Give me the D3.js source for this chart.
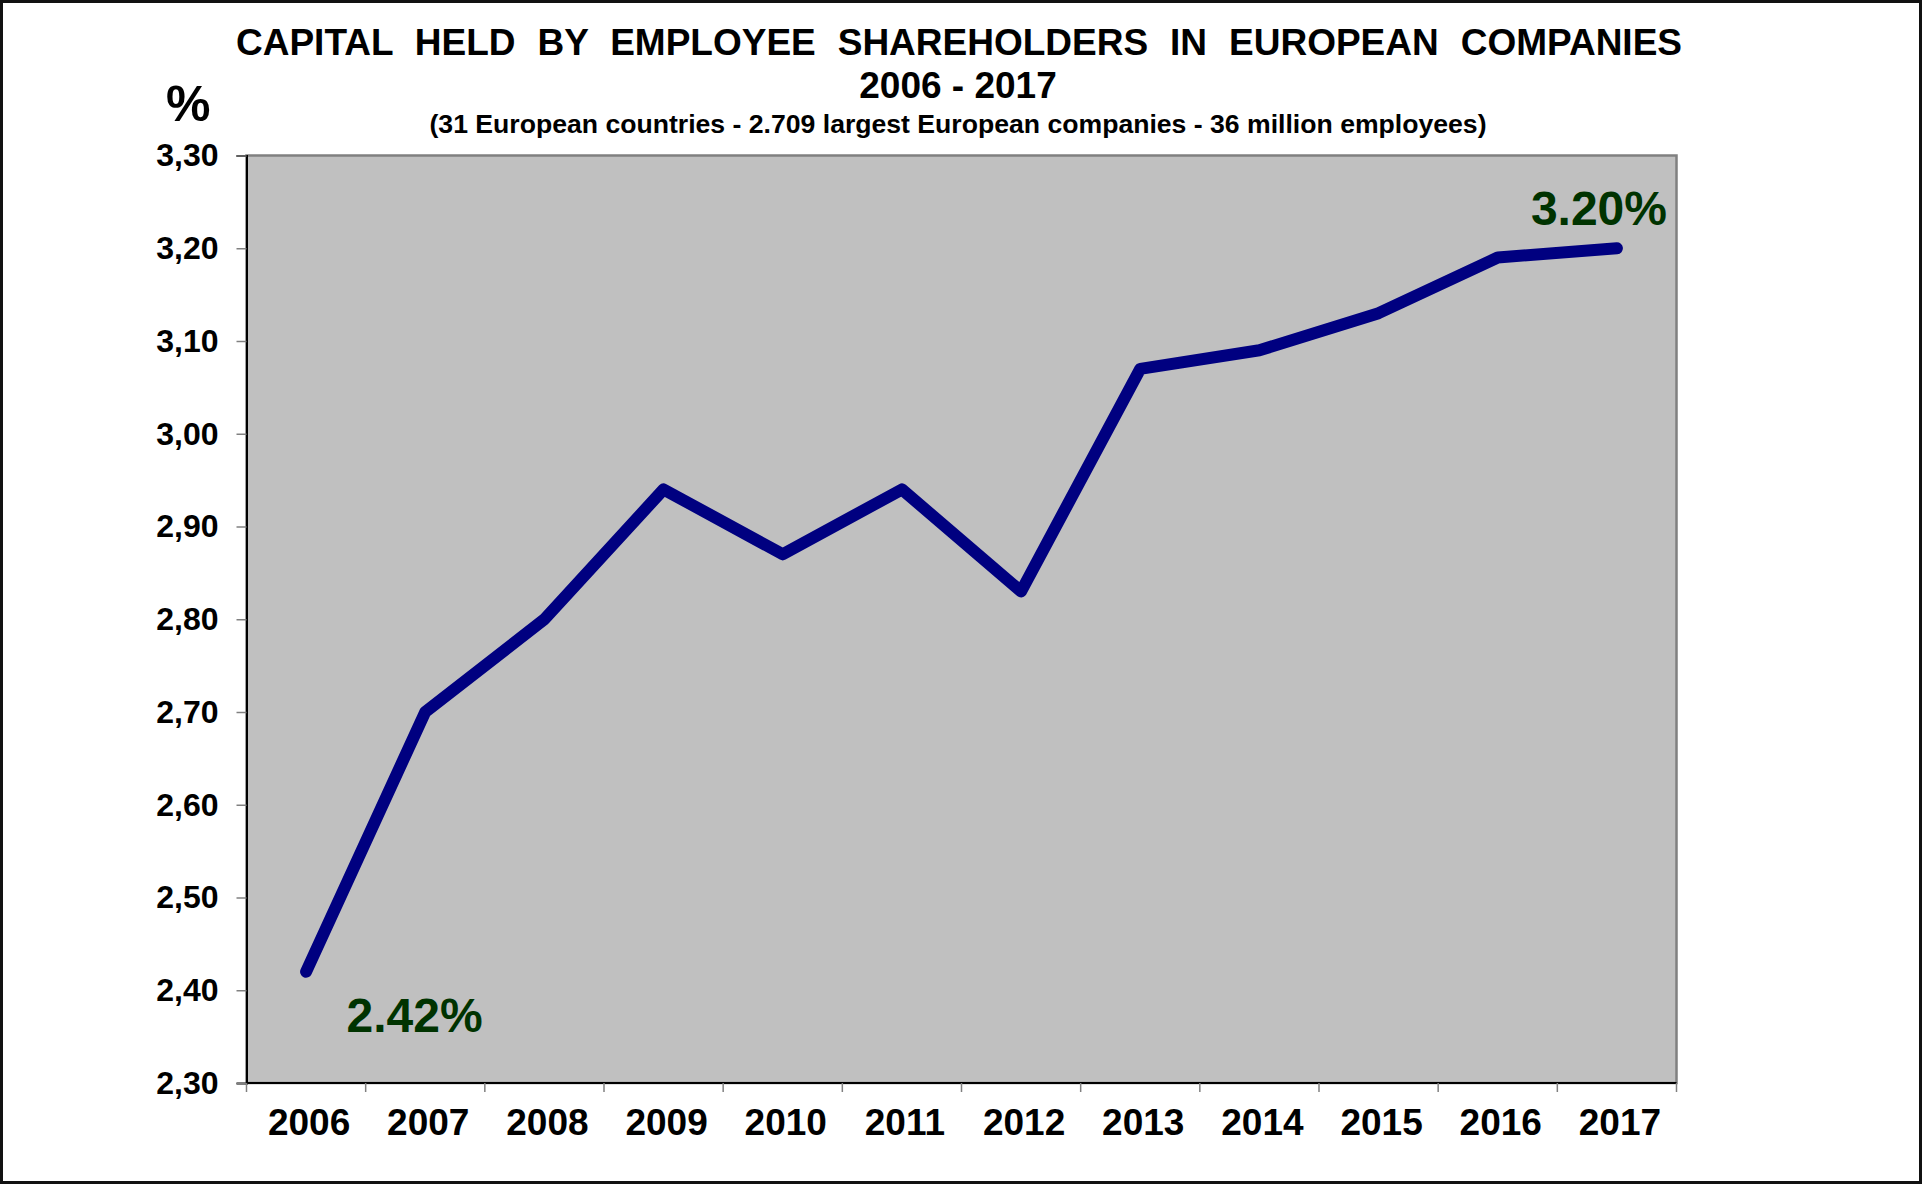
<!DOCTYPE html>
<html>
<head>
<meta charset="utf-8">
<script src="https://cdn.jsdelivr.net/npm/d3@7"></script>
<style>
  html, body { margin: 0; padding: 0; background: #fff; }
  svg { display: block; font-family: "Liberation Sans", Arial, sans-serif; font-weight: bold; }
</style>
</head>
<body>
<svg id="chart" width="1923" height="1184"></svg>
<script>
const years = ["2006","2007","2008","2009","2010","2011","2012","2013","2014","2015","2016","2017"];
const values = [2.42, 2.70, 2.80, 2.94, 2.87, 2.94, 2.83, 3.07, 3.09, 3.13, 3.19, 3.20];
const yTicks = [2.30, 2.40, 2.50, 2.60, 2.70, 2.80, 2.90, 3.00, 3.10, 3.20, 3.30];
const titleLine1 = "CAPITAL HELD BY EMPLOYEE SHAREHOLDERS IN EUROPEAN COMPANIES";
const titleLine2 = "2006 - 2017";
const subtitle = "(31 European countries - 2.709 largest European companies - 36 million employees)";
const firstLabel = "2.42%";
const lastLabel = "3.20%";

const svg = d3.select("#chart");
const W = 1923, H = 1184;
const plot = { left: 246.5, right: 1676.5, top: 155.5, bottom: 1083 };

// outer frame
svg.append("rect").attr("x", 1.5).attr("y", 1.5).attr("width", W - 4).attr("height", H - 3)
  .attr("fill", "#fff").attr("stroke", "#111").attr("stroke-width", 3);

const x = d3.scaleBand().domain(years).range([plot.left, plot.right]).padding(0);
const y = d3.scaleLinear().domain([2.30, 3.30]).range([plot.bottom, plot.top]);

// plot background
svg.append("rect").attr("x", plot.left).attr("y", plot.top)
  .attr("width", plot.right - plot.left).attr("height", plot.bottom - plot.top)
  .attr("fill", "#C0C0C0").attr("stroke", "#808080").attr("stroke-width", 2.5);

// Y axis
const fmt = d => d3.format(".2f")(d).replace(".", ",");
const yAxis = svg.append("g").attr("transform", `translate(${plot.left},0)`)
  .call(d3.axisLeft(y).tickValues(yTicks).tickFormat(fmt).tickSize(10).tickPadding(18));
yAxis.select(".domain").attr("stroke", "#000").attr("stroke-width", 2);
yAxis.selectAll(".tick line").attr("stroke", "#808080").attr("stroke-width", 1.5);
yAxis.selectAll(".tick text").attr("font-size", 32).attr("font-weight", "bold")
  .attr("font-family", "'Liberation Sans', Arial, sans-serif").attr("fill", "#000");

// X axis
const xTickPositions = years.map(d => x(d)).concat([x(years[years.length - 1]) + x.bandwidth()]);
const xAxisG = svg.append("g").attr("transform", `translate(0,${plot.bottom})`);
xAxisG.append("line").attr("x1", plot.left).attr("x2", plot.right).attr("y1", 0).attr("y2", 0)
  .attr("stroke", "#000").attr("stroke-width", 2);
xAxisG.selectAll("line.tick").data(xTickPositions).join("line").attr("class", "tick")
  .attr("x1", d => d).attr("x2", d => d).attr("y1", 0).attr("y2", 9)
  .attr("stroke", "#808080").attr("stroke-width", 1.5);
xAxisG.selectAll("text").data(years).join("text")
  .attr("x", d => x(d) + x.bandwidth() / 2 + 3).attr("y", 52)
  .attr("text-anchor", "middle").attr("font-size", 37).attr("fill", "#000")
  .text(d => d);

// line
const line = d3.line().x((d, i) => x(years[i]) + x.bandwidth() / 2).y(d => y(d));
svg.append("path").datum(values).attr("d", line)
  .attr("fill", "none").attr("stroke", "#000080").attr("stroke-width", 12)
  .attr("stroke-linecap", "round").attr("stroke-linejoin", "round");

// value labels
svg.append("text").attr("x", 346.5).attr("y", 1032).attr("font-size", 48)
  .attr("fill", "#003300").text(firstLabel);
svg.append("text").attr("x", 1667).attr("y", 225).attr("font-size", 48)
  .attr("text-anchor", "end").attr("fill", "#003300").text(lastLabel);

// titles
const t1 = svg.append("text").attr("x", 236).attr("y", 55).attr("font-size", 37)
  .attr("fill", "#000").text(titleLine1);
const targetW = 1682 - 236;
const natW = t1.node().getComputedTextLength();
const nSpaces = titleLine1.split(" ").length - 1;
t1.attr("word-spacing", (targetW - natW) / nSpaces);

svg.append("text").attr("x", 958).attr("y", 98).attr("font-size", 37)
  .attr("text-anchor", "middle").attr("fill", "#000").text(titleLine2);
svg.append("text").attr("x", 958).attr("y", 133).attr("font-size", 26)
  .attr("text-anchor", "middle").attr("fill", "#000")
  .attr("textLength", 1057).attr("lengthAdjust", "spacingAndGlyphs").text(subtitle);

// % unit label
svg.append("text").attr("x", 166).attr("y", 121).attr("font-size", 50)
  .attr("fill", "#000").text("%");
</script>
</body>
</html>
